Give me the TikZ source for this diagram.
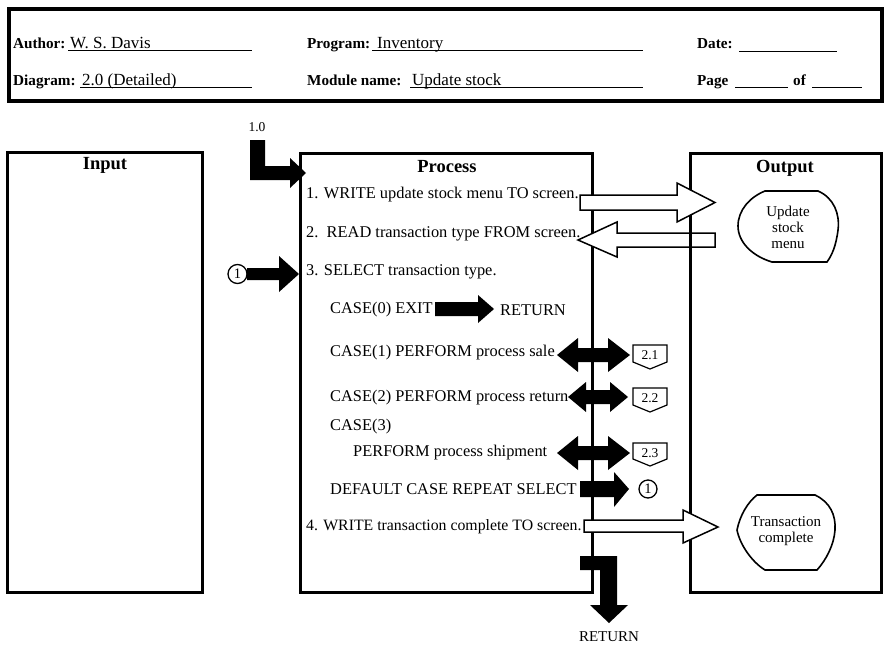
\documentclass[tikz,border=0pt]{standalone}
\usepackage{fontspec}
\setmainfont{Liberation Serif}
\begin{document}
\begin{tikzpicture}[x=1pt,y=-1pt,
  hb/.style={anchor=base west, inner sep=0pt, font=\fontsize{15.2}{17}\bfseries\selectfont},
  hv/.style={anchor=base west, inner sep=0pt, font=\fontsize{17}{19}\selectfont},
  uline/.style={line width=1pt},
  box/.style={draw, line width=3pt},
  title/.style={inner sep=0pt, font=\fontsize{18.5}{20}\bfseries\selectfont},
  txt/.style={anchor=west, inner sep=0pt, font=\fontsize{16.4}{18}\selectfont},
  small/.style={inner sep=0pt, align=center, font=\fontsize{15}{16}\selectfont},
  tag/.style={inner sep=0pt, font=\fontsize{13.5}{15}\selectfont},
  conn/.style={draw, line width=1.2pt},
  blk/.style={fill=black},
  hollow/.style={draw, fill=white, line width=1.5pt, line join=miter},
  blob/.style={draw, line width=1.6pt},
  circ/.style={circle, draw, line width=1.3pt, minimum size=19pt, inner sep=0pt, font=\fontsize{14.5}{16}\selectfont}
]
\useasboundingbox (0,0) rectangle (885,648);
\fill[white] (0,0) rectangle (885,648);

% ---------- header ----------
\draw[line width=4pt] (9,9) rectangle (882,101);
\node[hb] (lauth) at (13,48) {Author:};
\node[hv] (vauth) at (70,48) {W. S. Davis};
\draw[uline] (68,50) -- (252,50);
\node[hb] (lprog) at (307,48) {Program:};
\node[hv] (vprog) at (377,48) {Inventory};
\draw[uline] (372,50) -- (643,50);
\node[hb] (ldate) at (697,48) {Date:};
\draw[uline] (739,51) -- (837,51);

\node[hb] (ldiag) at (13,85) {Diagram:};
\node[hv] (vdiag) at (82,85) {2.0 (Detailed)};
\draw[uline] (80,87) -- (252,87);
\node[hb] (lmod) at (307,85) {Module name:};
\node[hv] (vmod) at (412,85) {Update stock};
\draw[uline] (410,87) -- (643,87);
\node[hb] (lpage) at (697,85) {Page};
\draw[uline] (735,87) -- (788,87);
\node[hb] (lof) at (793,85) {of};
\draw[uline] (812,87) -- (862,87);

% ---------- boxes ----------
\draw[box] (7,152) rectangle (202,592);
\draw[box] (300,153) rectangle (592,592);
\draw[box] (690,153) rectangle (881,592);
\node[title] (tin) at (105,165) {Input};
\node[title] (tproc) at (447,167) {Process};
\node[title] (tout) at (785,168) {Output};

% ---------- process text ----------
\node[txt] (s1) at (306,195) {1. WRITE update stock menu TO screen.};
\node[txt] (s2) at (306,234) {2.\ \ READ transaction type FROM screen.};
\node[txt] (s3) at (306,272) {3. SELECT transaction type.};
\node[txt] (c0) at (330,310) {CASE(0) EXIT};
\node[txt] (ret0) at (500,310) {RETURN};
\node[txt] (c1) at (330,353) {CASE(1) PERFORM process sale};
\node[txt] (c2) at (330,398) {CASE(2) PERFORM process return};
\node[txt] (c3) at (330,427) {CASE(3)};
\node[txt] (c3b) at (353,453) {PERFORM process shipment};
\node[txt] (cd) at (330,489) {DEFAULT CASE REPEAT SELECT};

% ---------- entry arrow 1.0 ----------
\node[tag] (l10) at (257,127) {1.0};
\fill[blk] (250,140) -- (265,140) -- (265,166) -- (290,166) -- (290,158)
  -- (306,173) -- (290,188) -- (290,180) -- (250,180) -- cycle;

% ---------- connector 1 on the left ----------
\node[circ] (k1) at (237.5,274) {1};
\fill[blk] (247,268) -- (279,268) -- (279,256) -- (299,274) -- (279,292)
  -- (279,280) -- (247,280) -- cycle;

% ---------- CASE(0) arrow ----------
\fill[blk] (435,302) -- (478,302) -- (478,295) -- (494,309) -- (478,323)
  -- (478,316) -- (435,316) -- cycle;

% ---------- double arrows ----------
\fill[blk] (557,355) -- (578,338) -- (578,348) -- (608,348) -- (608,338)
  -- (630,355) -- (608,372) -- (608,362) -- (578,362) -- (578,372) -- cycle;
\fill[blk] (568,397) -- (586,382) -- (586,390) -- (610,390) -- (610,382)
  -- (628,397) -- (610,412) -- (610,404) -- (586,404) -- (586,412) -- cycle;
\fill[blk] (557,453) -- (578,436) -- (578,446) -- (608,446) -- (608,436)
  -- (630,453) -- (608,470) -- (608,460) -- (578,460) -- (578,470) -- cycle;

% ---------- off-page connectors ----------
\draw[conn] (633,345) -- (667,345) -- (667,362) -- (650,369) -- (633,362) -- cycle;
\node[tag] (p21) at (650,355) {2.1};
\draw[conn] (633,388) -- (667,388) -- (667,405) -- (650,412) -- (633,405) -- cycle;
\node[tag] (p22) at (650,398) {2.2};
\draw[conn] (633,443) -- (667,443) -- (667,459) -- (650,466) -- (633,459) -- cycle;
\node[tag] (p23) at (650,453) {2.3};

% ---------- default arrow ----------
\fill[blk] (580,481) -- (614,481) -- (614,472) -- (629,489) -- (614,507)
  -- (614,497) -- (580,497) -- cycle;
\node[circ, minimum size=18pt] (k2) at (648,489) {1};

% ---------- return arrow ----------
\fill[blk] (580,556) -- (617,556) -- (617,605) -- (628,605) -- (609,623)
  -- (590,605) -- (600,605) -- (600,570) -- (580,570) -- cycle;
\node[txt, anchor=center, font=\fontsize{15}{17}\selectfont] (ret1) at (609,637) {RETURN};

% ---------- hollow arrows ----------
\draw[hollow] (580,195) -- (677,195) -- (677,183) -- (715,202.5) -- (677,222)
  -- (677,210) -- (580,210) -- cycle;
\draw[hollow] (715,233) -- (617,233) -- (617,222) -- (578,240) -- (617,257)
  -- (617,247) -- (715,247) -- cycle;
\draw[hollow] (584,520) -- (683,520) -- (683,510) -- (718,527) -- (683,543)
  -- (683,532) -- (584,532) -- cycle;
\draw[line width=3pt] (690,225) -- (690,255);
\node[txt, font=\fontsize{15.8}{18}\selectfont] (s4) at (306,527) {4. WRITE transaction complete TO screen.};

% ---------- output blobs ----------
\draw[blob] (765,191) -- (818,191) .. controls (834,198) and (840,214) .. (838,230)
  .. controls (836,246) and (832,255) .. (827,262) -- (772,262)
  .. controls (752,256) and (738,242) .. (738,226)
  .. controls (738,210) and (750,197) .. (765,191) -- cycle;
\node[small] (om1) at (788,227) {Update\\stock\\menu};

\draw[blob] (757,495) -- (815,495) .. controls (830,502) and (836,515) .. (835,530)
  .. controls (834,545) and (826,560) .. (817,570) -- (765,570)
  .. controls (752,562) and (740,545) .. (737,530)
  .. controls (740,515) and (748,502) .. (757,495) -- cycle;
\node[small] (om2) at (786,531) {Transaction\\complete};
\end{tikzpicture}
\end{document}
